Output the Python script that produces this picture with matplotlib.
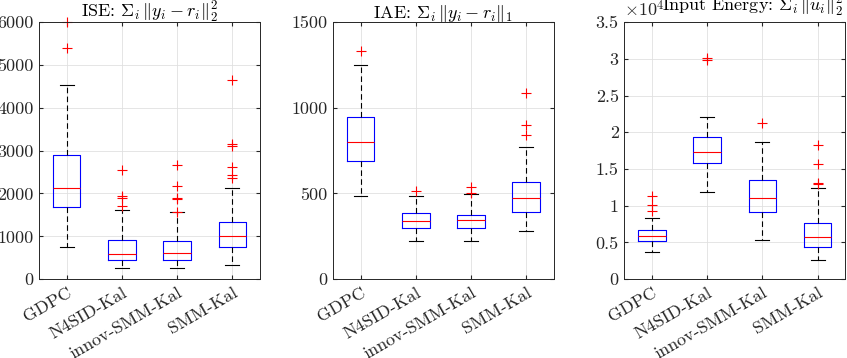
import matplotlib
matplotlib.use('Agg')
import matplotlib.pyplot as plt
from matplotlib.ticker import FuncFormatter
from matplotlib.transforms import ScaledTranslation

plt.rcParams['font.family'] = 'serif'
plt.rcParams['font.serif'] = ['cmr10']
plt.rcParams['mathtext.fontset'] = 'cm'
plt.rcParams['axes.unicode_minus'] = False

methods = ['GDPC', 'N4SID-Kal', 'innov-SMM-Kal', 'SMM-Kal']

# ISE stats per method: whislo, q1, med, q3, whishi
ise_whislo = [762, 264, 272, 334]
ise_q1 = [1679, 443, 451, 746]
ise_med = [2122, 598, 606, 1010]
ise_q3 = [2891, 925, 886, 1345]
ise_whishi = [4531, 1609, 1562, 2122]
ise_fliers = [[5992, 5401],
              [2541, 1950, 1900, 1718],
              [2666, 2176, 1889, 1865, 1570],
              [4648, 3155, 3117, 2611, 2425, 2363]]

# IAE
iae_whislo = [486, 225, 223, 284]
iae_q1 = [690, 297, 297, 392]
iae_med = [802, 342, 344, 472]
iae_q3 = [948, 385, 377, 565]
iae_whishi = [1247, 488, 497, 771]
iae_fliers = [[1333], [517], [540, 503], [1084, 898, 839]]

# Input energy (x 10^4)
en_whislo = [0.367, 1.183, 0.535, 0.263]
en_q1 = [0.521, 1.578, 0.916, 0.435]
en_med = [0.594, 1.727, 1.102, 0.571]
en_q3 = [0.666, 1.940, 1.356, 0.771]
en_whishi = [0.830, 2.212, 1.863, 1.238]
en_fliers = [[1.129, 1.006, 0.929], [3.015, 2.983], [2.126],
             [1.823, 1.564, 1.315, 1.301]]


def make_stats(lo, q1, med, q3, hi, fl):
    out = []
    for i in range(len(methods)):
        out.append(dict(whislo=lo[i], q1=q1[i], med=med[i], q3=q3[i],
                        whishi=hi[i], fliers=fl[i], label=methods[i]))
    return out


panels = [
    (make_stats(ise_whislo, ise_q1, ise_med, ise_q3, ise_whishi, ise_fliers),
     r'ISE: $\Sigma_i\, \Vert y_i - r_i\Vert_2^2$', (0, 6000), range(0, 6001, 1000)),
    (make_stats(iae_whislo, iae_q1, iae_med, iae_q3, iae_whishi, iae_fliers),
     r'IAE: $\Sigma_i\, \Vert y_i - r_i\Vert_1$', (0, 1500), range(0, 1501, 500)),
    (make_stats(en_whislo, en_q1, en_med, en_q3, en_whishi, en_fliers),
     r'Input Energy: $\Sigma_i\, \Vert u_i\Vert_2^2$', (0, 3.5),
     [0, 0.5, 1, 1.5, 2, 2.5, 3, 3.5]),
]

fig = plt.figure(figsize=(8.47, 3.58), dpi=100)
lefts = [0.046, 0.393, 0.737]
width = 0.261
bottom = 0.22
height = 0.7185
fs = 13
shift = ScaledTranslation(6 / 100, 0, fig.dpi_scale_trans)

for k, (stats, title, ylim, yt) in enumerate(panels):
    ax = fig.add_axes([lefts[k], bottom, width, height])
    arts = ax.bxp(stats, positions=[1, 2, 3, 4], widths=0.5, patch_artist=False,
                  boxprops=dict(color='blue', linewidth=0.8),
                  medianprops=dict(color='red', linewidth=0.8),
                  whiskerprops=dict(color='black', linestyle=(0, (5, 3)), linewidth=0.8),
                  capprops=dict(color='black', linewidth=0.8),
                  flierprops=dict(marker='+', markeredgecolor='red', markersize=7,
                                  markeredgewidth=0.8, linestyle='none'),
                  capwidths=0.25)
    for f in arts['fliers']:
        f.set_clip_on(False)
    ax.set_xlim(0.5, 4.5)
    ax.set_ylim(*ylim)
    ax.set_yticks(list(yt))
    ax.yaxis.set_major_formatter(FuncFormatter(lambda v, p: '%g' % v))
    ax.set_xticks([1, 2, 3, 4])
    ax.set_xticklabels(methods, rotation=30, ha='right', rotation_mode='anchor',
                       fontsize=fs)
    for lab in ax.get_xticklabels():
        lab.set_transform(lab.get_transform() + shift)
    ax.tick_params(direction='in', length=3, labelsize=fs, colors='0.15',
                   top=True, right=True, pad=4)
    ax.grid(True, color='0.88', linewidth=0.6)
    ax.set_axisbelow(True)
    for s in ax.spines.values():
        s.set_color('0.15')
        s.set_linewidth(0.7)
    if k < 2:
        ax.set_title(title, fontsize=fs, pad=3)
    else:
        ax.text(0.99, 1.012, title, transform=ax.transAxes, ha='right',
                va='bottom', fontsize=fs)
        ax.text(0.0, 1.012, r'$\times 10^4$', transform=ax.transAxes,
                ha='left', va='bottom', fontsize=fs, color='0.15')

fig.savefig('out.png', dpi=100)
